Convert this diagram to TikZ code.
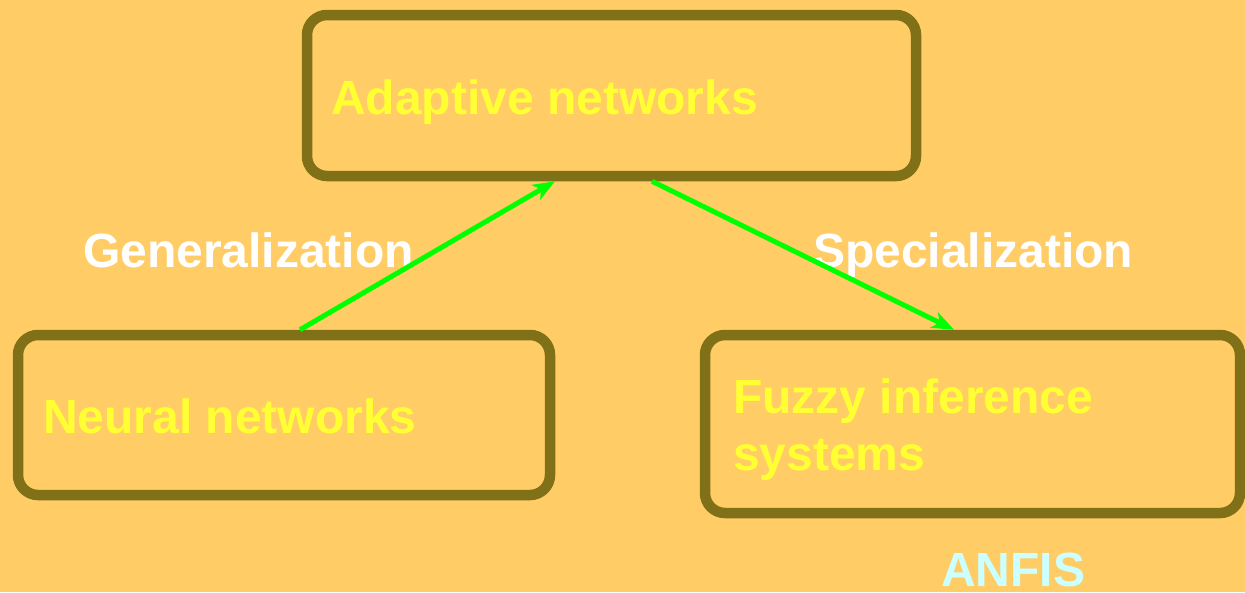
\documentclass[tikz,border=0pt]{standalone}
\usepackage{fontspec}
\setmainfont{Liberation Sans}
\usetikzlibrary{arrows.meta,calc}
\definecolor{bg}{RGB}{255,204,102}
\definecolor{frame}{RGB}{128,112,24}
\definecolor{txt}{RGB}{255,255,51}
\definecolor{anfis}{RGB}{204,255,255}
\definecolor{arr}{RGB}{0,255,0}
\tikzset{
  box/.style={draw=frame,line width=10.5pt,rounded corners=20pt,inner sep=0pt},
  boxtext/.style={anchor=base west,inner sep=0pt,text=txt,font=\fontsize{48}{57}\selectfont\bfseries,align=left},
  lbl/.style={anchor=base west,inner sep=0pt,text=white,font=\fontsize{48}{57}\selectfont\bfseries},
  link/.style={draw=arr,line width=5pt,-{Stealth[length=22pt,width=17pt,inset=6pt]}}
}
\begin{document}
\begin{tikzpicture}[x=1pt,y=-1pt]
\fill[bg] (0,0) rectangle (1245,592);
\useasboundingbox (0,0) rectangle (1245,592);
\node[box,minimum width=609pt,minimum height=161pt] (ad) at (611.5,95.5) {};
\node[box,minimum width=532pt,minimum height=160pt] (nn) at (284,415) {};
\node[box,minimum width=535pt,minimum height=178pt] (fz) at (972.5,424) {};
\node[boxtext] (adt) at (331,114) {Adaptive networks};
\node[boxtext] (nnt) at (43,433) {Neural networks};
\node[boxtext] (fzt) at (733,470) {Fuzzy inference\\systems};
\node[lbl] (gen) at (83,267) {Generalization};
\node[lbl] (spe) at (813,267) {Specialization};
\node[anchor=base west,inner sep=0pt,text depth=0pt,text=anfis,font=\fontsize{48}{57}\selectfont\bfseries] (anf) at (941,586) {ANFIS};
\coordinate (g1) at (300,0);
\coordinate (g2) at (555,0);
\coordinate (s1) at (652,0);
\coordinate (s2) at (954,0);
\draw[link] (nn.north -| g1) -- (ad.south -| g2);
\draw[link] (ad.south -| s1) -- (fz.north -| s2);
\end{tikzpicture}
\end{document}
